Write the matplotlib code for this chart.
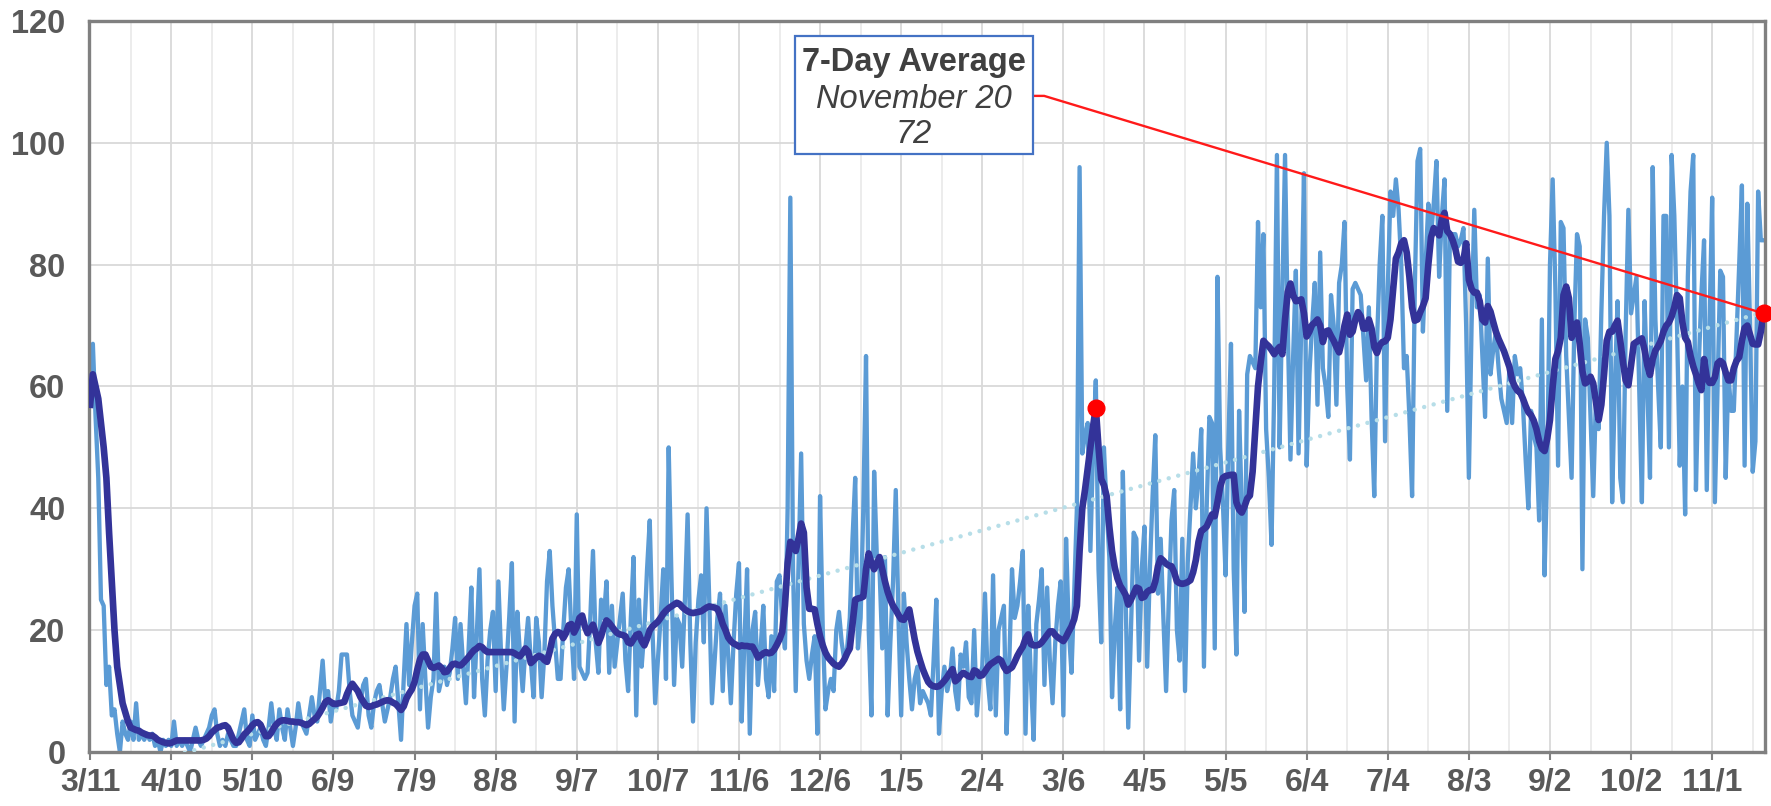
import numpy as np
import pandas as pd
import matplotlib
matplotlib.use('Agg')
import matplotlib.pyplot as plt
from matplotlib.patches import Rectangle

plt.rcParams['font.family'] = ['Liberation Sans', 'DejaVu Sans']

## ========= data (one value per day) =========

start_date = '2020-03-11'

daily = [
    57, 67, 55, 45, 25, 24, 11, 14, 6, 7,          # d0
    3, 0, 5, 3, 2, 5, 2, 8, 2, 3,
    2, 3, 2, 3, 1, 2, 0, 2, 1, 2,
    1, 5, 1, 2, 1, 2, 1, 0, 2, 4,
    2, 1, 2, 3, 4, 6, 7, 3, 1, 2,
    1, 3, 2, 1, 1, 3, 5, 7, 2, 1,                  # d50
    6, 2, 3, 4, 2, 1, 4, 8, 4, 2,
    7, 4, 2, 7, 4, 1, 4, 8, 5, 4,
    3, 6, 9, 6, 5, 10, 15, 8, 10, 5,
    8, 7, 10, 16, 16, 16, 10, 6, 5, 4,
    8, 11, 12, 6, 4, 8, 10, 11, 8, 5,              # d100
    7, 9, 12, 14, 8, 2, 12, 21, 11, 18,
    24, 26, 7, 21, 12, 4, 9, 12, 26, 10,
    12, 14, 11, 13, 17, 22, 12, 21, 14, 8,
    17, 27, 9, 19, 30, 12, 6, 15, 20, 23,
    10, 28, 16, 7, 14, 22, 31, 5, 23, 16,          # d150
    10, 17, 22, 15, 9, 22, 18, 9, 16, 28,
    33, 24, 18, 12, 12, 20, 27, 30, 20, 12,
    39, 14, 13, 12, 13, 22, 33, 18, 13, 25,
    22, 28, 13, 24, 14, 18, 22, 26, 15, 10,
    22, 32, 6, 25, 14, 20, 30, 38, 20, 8,          # d200
    15, 22, 30, 12, 50, 29, 11, 22, 21, 14,
    25, 39, 18, 5, 18, 25, 29, 18, 40, 25,
    8, 15, 22, 26, 10, 24, 16, 8, 18, 26,
    31, 5, 18, 30, 3, 20, 23, 11, 17, 24,
    12, 9, 19, 10, 28, 29, 22, 17, 40, 91,         # d250
    30, 10, 30, 49, 21, 15, 12, 16, 19, 3,
    42, 20, 7, 10, 12, 10, 20, 23, 18, 15,
    17, 22, 35, 45, 17, 22, 40, 65, 20, 6,
    46, 32, 30, 17, 32, 6, 18, 28, 43, 22,
    6, 26, 18, 12, 7, 12, 14, 8, 10, 9,            # d300
    8, 6, 15, 25, 3, 10, 14, 10, 12, 17,
    10, 7, 16, 14, 18, 9, 8, 20, 6, 12,
    14, 26, 12, 7, 29, 6, 20, 22, 24, 3,
    15, 30, 22, 24, 28, 33, 3, 24, 12, 2,
    21, 25, 30, 11, 27, 15, 8, 18, 24, 28,         # d350
    6, 35, 20, 13, 26, 40, 96, 49, 52, 54,
    33, 50, 61, 30, 18, 50, 40, 32, 9, 20,
    27, 7, 46, 26, 4, 20, 36, 35, 15, 30,
    37, 14, 30, 42, 52, 26, 35, 22, 10, 25,
    38, 43, 20, 15, 35, 10, 31, 40, 49, 40,        # d400
    45, 53, 14, 40, 55, 54, 17, 78, 50, 41,
    29, 50, 67, 30, 16, 56, 40, 23, 62, 65,
    64, 63, 87, 73, 85, 53, 45, 34, 60, 98,
    50, 75, 98, 70, 48, 65, 79, 49, 70, 95,
    47, 62, 70, 77, 57, 82, 63, 60, 55, 75,        # d450
    70, 57, 77, 80, 87, 60, 48, 76, 77, 76,
    75, 68, 61, 73, 55, 42, 67, 80, 88, 51,
    76, 92, 88, 94, 89, 80, 63, 65, 55, 42,
    76, 97, 99, 69, 80, 90, 85, 90, 97, 78,
    88, 94, 56, 85, 85, 85, 83, 84, 86, 70,        # d500
    45, 70, 89, 73, 75, 65, 55, 81, 62, 66,
    69, 63, 58, 56, 54, 63, 54, 65, 62, 63,
    57, 48, 40, 56, 52, 50, 38, 71, 29, 47,
    80, 94, 76, 47, 87, 86, 65, 55, 45, 70,
    85, 83, 30, 71, 68, 55, 42, 58, 53, 72,        # d550
    88, 100, 88, 41, 60, 74, 45, 41, 69, 89,
    72, 75, 78, 60, 41, 74, 60, 45, 96, 71,
    60, 50, 88, 88, 50, 98, 88, 70, 47, 60,
    39, 78, 92, 98, 43, 63, 75, 84, 43, 70,
    91, 41, 60, 79, 78, 45, 62, 56, 56, 68,        # d600
    80, 93, 47, 90, 70, 46, 51, 92, 84, 84,
]

avg_7day = [
    57, 62, 60, 58, 54, 50, 45, 36, 28, 20,        # d0
    14, 11, 8, 6.5, 5, 4, 3.8, 3.6, 3.5, 3.2,
    3, 2.8, 2.7, 2.7, 2.4, 2, 1.8, 1.6, 1.5, 1.4,
    1.5, 1.7, 1.9, 1.9, 1.9, 1.9, 1.9, 1.9, 1.9, 1.9,
    1.9, 1.9, 2, 2.2, 2.6, 3.2, 3.6, 4, 4.1, 4.3,
    4.4, 4, 3, 2, 1.5, 1.6, 2.2, 2.9, 3.3, 3.8,    # d50
    4.4, 4.8, 4.9, 4.5, 3.5, 2.6, 2.6, 3.2, 4, 4.6,
    5, 5.2, 5.2, 5.1, 5, 5, 4.9, 4.9, 4.8, 4.6,
    4.4, 4.6, 5, 5.4, 5.8, 6.5, 7.3, 8.2, 8.5, 8.2,
    7.9, 7.9, 8, 8.1, 8.2, 9.5, 10.5, 11.2, 10.6, 10,
    9, 8.3, 7.6, 7.4, 7.5, 7.7, 7.8, 8, 8.2, 8.4,  # d100
    8.5, 8.4, 8.1, 7.9, 7.4, 6.9, 7.5, 8.8, 9.6, 10.3,
    11.5, 13.5, 15.2, 16, 16, 15, 14, 13.8, 14, 14.2,
    13.8, 13.1, 13.2, 13.8, 14.4, 14.5, 14.3, 14.2, 14.6, 15.1,
    15.6, 16.2, 16.7, 17, 17.4, 17.2, 16.7, 16.4, 16.4, 16.4,
    16.4, 16.4, 16.4, 16.4, 16.4, 16.4, 16.4, 16.2, 15.9, 15.7,  # d150
    16.3, 17, 16.5, 14.6, 15, 15.5, 15.8, 15.6, 15.1, 14.8,
    16.5, 18.6, 19.4, 19.7, 19.5, 18.7, 19.5, 20.8, 21, 19.6,
    20.5, 22, 22.4, 20.6, 19.5, 20.2, 20.9, 19.5, 17.9, 19,
    20.5, 21.6, 21.2, 20.6, 20, 19.5, 19.3, 19.2, 19, 18,
    17.8, 18.5, 19.2, 19.4, 18.2, 17.5, 18.6, 20, 20.6, 21,      # d200
    21.4, 22, 22.7, 23.2, 23.6, 23.9, 24.2, 24.5, 24.3, 23.8,
    23.4, 23.1, 22.9, 22.8, 22.9, 23, 23.1, 23.4, 23.7, 23.9,
    23.8, 23.7, 23.5, 22.5, 21, 20, 18.8, 18.2, 17.8, 17.6,
    17.3, 17.5, 17.4, 17.4, 17.3, 17.3, 16.5, 15.5, 15.8, 16.2,
    16.4, 16.2, 16.3, 16.8, 17.6, 18.5, 19.7, 24, 31, 34.5,      # d250
    34, 33, 35, 37.5, 36, 27, 23.5, 23.5, 23.4, 21,
    19, 17.5, 16.3, 15.5, 15, 14.5, 14.2, 14, 14.5, 15.2,
    16.2, 17, 21, 25, 25.2, 25.3, 25.5, 30, 32.6, 31,
    30, 31, 32, 30, 28, 26.3, 25, 24, 23.3, 22.5,
    21.8, 21.7, 22.5, 23.4, 21, 18.5, 16.5, 15, 13.6, 12.5,      # d300
    11.5, 11, 10.8, 10.7, 10.8, 11.2, 11.7, 12.3, 13, 13.6,
    11.6, 12, 12.6, 13, 12.7, 12.4, 12.3, 13.4, 13.2, 12.5,
    12.6, 13.2, 13.9, 14.4, 14.7, 15, 15.3, 15, 14, 13.3,
    13.6, 13.9, 14.8, 15.8, 16.6, 17.3, 18.6, 19.3, 17.7, 17.5,
    17.5, 17.6, 18, 18.6, 19.2, 19.8, 19.8, 19.2, 18.8, 18.5,    # d350
    18.2, 18.9, 19.8, 20.6, 21.8, 24, 33, 40, 43, 46.5,
    50, 53.5, 56.5, 50, 44.8, 43.8, 42, 37, 33, 30.3,
    28.5, 27.3, 26.6, 25.8, 24.2, 25, 26, 27, 26.8, 25.3,
    25.5, 26.3, 26.6, 26.6, 28, 30.5, 31.8, 31.4, 30.9, 30.6,
    30.5, 29.5, 28, 27.7, 27.6, 27.7, 27.9, 28.2, 29.5, 31.5,    # d400
    34.5, 36.3, 36.6, 37, 38, 39, 38.7, 41, 43.5, 45,
    45.3, 45.4, 45.5, 45.5, 41, 39.8, 39.3, 40.3, 41.6, 42.1,
    46, 53, 60, 64, 67.5, 67, 66.6, 66, 65.3, 66,
    66.5, 65.3, 71, 75.5, 76.9, 75, 74, 74.1, 74.3, 72,
    68.2, 69, 70.1, 70.5, 71, 70, 67.3, 69, 69.2, 68.3,          # d450
    67.5, 66.5, 65.6, 67.5, 70, 71.8, 68.5, 69, 71, 72.2,
    71.5, 69.5, 69.5, 71, 69.5, 66.5, 65.5, 66.8, 67.3, 67.4,
    68, 71, 76, 81, 82, 83.5, 84, 82, 78, 73,
    70.8, 71, 72.2, 73.2, 74.5, 80, 84.5, 86, 85.5, 84.8,
    87.5, 88.5, 85.5, 85, 84, 82.6, 80.5, 80.3, 80.8, 83.5,      # d500
    77.5, 76, 75.4, 75.4, 74, 71, 70.5, 73.2, 72.3, 70.6,
    69, 67.8, 66.8, 65.8, 64.5, 63.2, 61, 60, 59.3, 59,
    58, 56.8, 55.8, 55.3, 54.4, 53, 51, 49.8, 49.4, 51.5,
    54.5, 60, 64.5, 65.8, 68, 75, 76.4, 74.5, 68, 69.5,
    70.5, 67, 62.5, 60.5, 60.8, 61.6, 60.5, 57.5, 54.5, 57,      # d550
    62, 67.5, 69, 69, 70, 70.8, 67.5, 64, 61, 60.2,
    63.5, 67, 67.3, 67.6, 67.9, 66, 63.5, 61.9, 64.5, 65.9,
    66.6, 67.5, 69, 70, 70.5, 71.5, 73, 75, 74.5, 70.5,
    68, 67.3, 65, 63.3, 62, 60.5, 59.4, 64.5, 61.5, 60.6,
    60.6, 61.5, 63.8, 64.2, 63.8, 62.3, 61, 61, 63, 64.2,        # d600
    64.8, 67.5, 69.6, 70, 68.5, 67, 66.9, 66.9, 69, 72,
]

highlight_dates = ['2021-03-18', '2021-11-20']
callout_title = '7-Day Average'

assert len(daily) == len(avg_7day) == 620

## ========= plot =========

dates = pd.date_range(start_date, periods=len(daily), freq='D')
days = np.arange(len(dates))
avg = np.array(avg_7day)

# linear trendline of the daily series (like the Excel one)
coef = np.polyfit(days, daily, 1)
trend = np.polyval(coef, days)

fig = plt.figure(figsize=(17.71, 8.06), dpi=100)
ax = fig.add_axes([0.0503, 0.067, 0.9464, 0.907])

ax.plot(days, daily, color='#5B9BD5', lw=3.1, zorder=2, solid_joinstyle='round')
ax.plot(days, trend, color='#B7DEE8', lw=3.2, ls=(0, (0.01, 2.2)),
        dash_capstyle='round', zorder=3)
ax.plot(days, avg, color='#333399', lw=4.8, zorder=4, solid_joinstyle='round')

hi = [dates.get_loc(pd.Timestamp(d)) for d in highlight_dates]
ax.plot(days[hi], avg[hi], 'o', color='#FF0000', ms=12, zorder=8, clip_on=False)

# callout box + connector to the last point
bx0, bx1, by0, by1 = 260.7, 348.9, 98.2, 117.6
ax.add_patch(Rectangle((bx0, by0), bx1 - bx0, by1 - by0, facecolor='white',
                       edgecolor='#4472C4', lw=1.6, zorder=6))
ax.plot([bx1, bx1 + 4, days[-1]], [107.7, 107.7, avg[-1]],
        color='#FF1A1A', lw=1.7, zorder=5, clip_on=False)
cx = (bx0 + bx1) / 2
last = dates[-1]
ax.text(cx, 111.8, callout_title, ha='center', va='baseline', fontsize=23.5,
        fontweight='bold', color='#404040', zorder=7)
ax.text(cx, 105.7, f'{last:%B} {last.day}', ha='center', va='baseline',
        fontsize=23.5, style='italic', color='#404040', zorder=7)
ax.text(cx, 100.0, f'{avg[-1]:.0f}', ha='center', va='baseline',
        fontsize=23.5, style='italic', color='#404040', zorder=7)

# axes
ax.set_xlim(-0.4, 619.6)
ax.set_ylim(0, 120)
ax.set_xticks(days[::30])
ax.set_xticklabels([f'{d.month}/{d.day}' for d in dates[::30]],
                   fontweight='bold', fontsize=23, color='#595959')
ax.set_xticks(days[15::30], minor=True)
ax.set_yticks(range(0, 121, 20))
ax.set_yticklabels([str(v) for v in range(0, 121, 20)],
                   fontweight='bold', fontsize=23.5, color='#595959')

ax.grid(which='major', color='#D9D9D9', lw=1.3, zorder=0)
ax.grid(which='minor', axis='x', color='#EBEBEB', lw=1.3, zorder=0)
ax.set_axisbelow(True)

ax.tick_params(axis='x', which='major', length=6, width=1.5, color='#808080', pad=5)
ax.tick_params(axis='x', which='minor', length=0)
ax.tick_params(axis='y', length=0, pad=17)

for s in ax.spines.values():
    s.set_color('#808080')
    s.set_linewidth(2.4)

fig.savefig('out.png', dpi=100)
